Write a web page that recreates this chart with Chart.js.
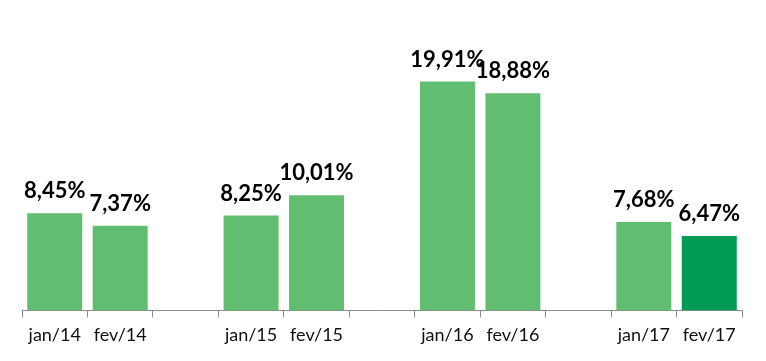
<!DOCTYPE html>
<html><head><meta charset="utf-8">
<script src="https://cdn.jsdelivr.net/npm/chart.js@4/dist/chart.umd.min.js"></script>
<style>html,body{margin:0;padding:0;background:#fff}#wrap{width:766px;height:361px}</style>
</head><body><div id="wrap"><canvas id="c" width="766" height="361"></canvas></div>
<script>
const categories = ['jan/14','fev/14','','jan/15','fev/15','','jan/16','fev/16','','jan/17','fev/17'];
const values = [8.45, 7.37, null, 8.25, 10.01, null, 19.91, 18.88, null, 7.68, 6.47];
const valueLabels = ['8,45%','7,37%','','8,25%','10,01%','','19,91%','18,88%','','7,68%','6,47%'];
const barColors = ['#61BD6F','#61BD6F','#61BD6F','#61BD6F','#61BD6F','#61BD6F','#61BD6F','#61BD6F','#61BD6F','#61BD6F','#009B55'];

const labelPlugin = {
  id: 'vlabels',
  afterDatasetsDraw(chart) {
    const ctx = chart.ctx;
    const meta = chart.getDatasetMeta(0);
    ctx.save();
    ctx.font = 'bold 22px Lato, "Open Sans", sans-serif';
    ctx.fillStyle = '#000';
    ctx.textAlign = 'center';
    ctx.textBaseline = 'alphabetic';
    meta.data.forEach((bar, i) => {
      if (values[i] == null) return;
      ctx.fillText(valueLabels[i], bar.x, bar.y - 15);
    });
    ctx.restore();
  }
};

new Chart(document.getElementById('c'), {
  type: 'bar',
  data: {
    labels: categories,
    datasets: [{ data: values, backgroundColor: barColors, borderWidth: 0,
      barPercentage: 0.84, categoryPercentage: 1.0 }]
  },
  options: {
    responsive: false,
    animation: false,
    layout: { padding: { left: 22, right: 24, top: 23, bottom: 8 } },
    plugins: { legend: { display: false }, tooltip: { enabled: false } },
    scales: {
      x: {
        offset: true,
        grid: { display: true, offset: true, drawOnChartArea: false, tickLength: 7, color: '#8c8c8c', lineWidth: 1 },
        border: { display: true, color: '#8c8c8c', width: 1 },
        ticks: { color: '#111', font: { family: 'Lato, "Open Sans", sans-serif', size: 18 }, padding: 7, maxRotation: 0, autoSkip: false }
      },
      y: { display: false, min: 0, max: 25 }
    }
  },
  plugins: [labelPlugin]
});
</script></body></html>
